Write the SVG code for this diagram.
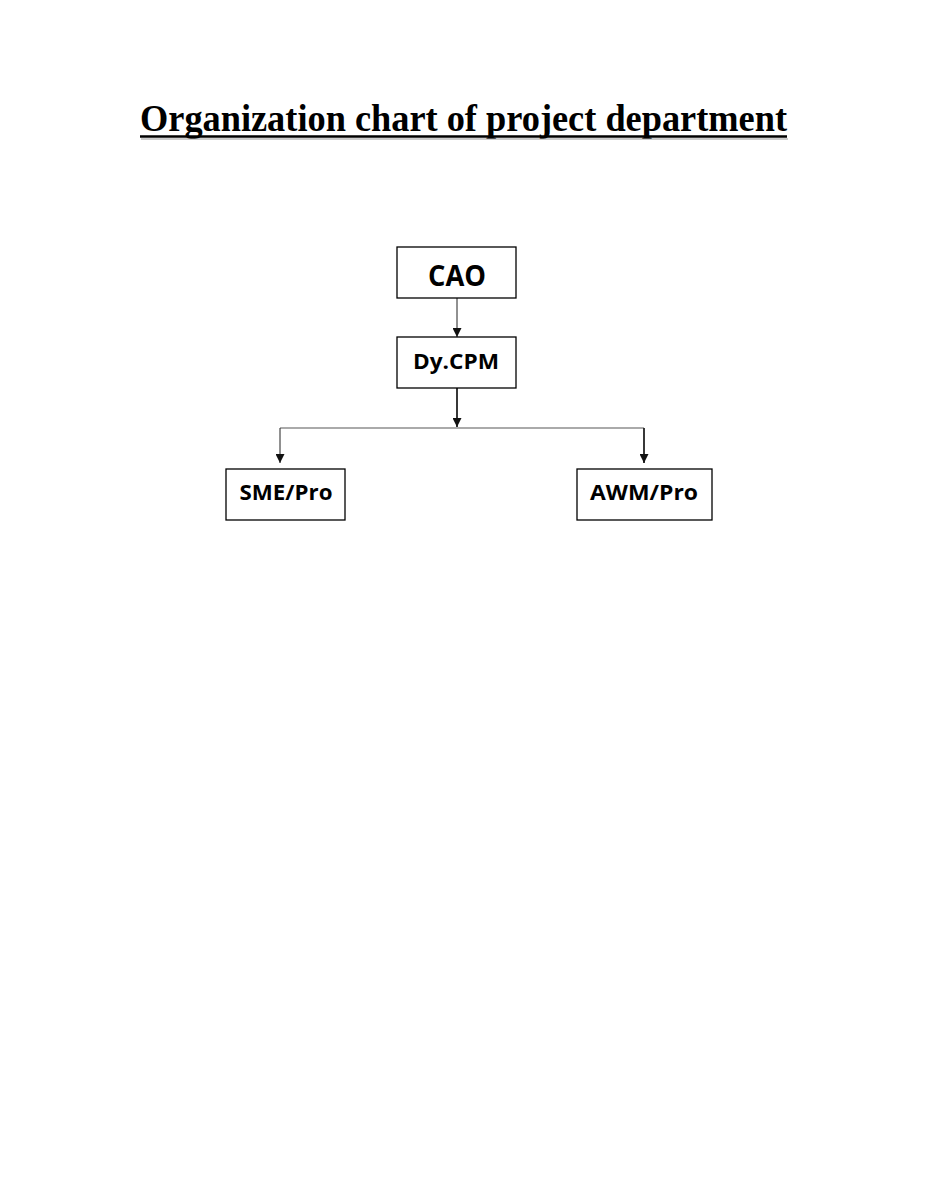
<svg xmlns="http://www.w3.org/2000/svg" width="927" height="1200" viewBox="0 0 927 1200">
<style>
.box{fill:#fff;stroke:#000;stroke-width:1.3}
.lbl{font-family:"Open Sans","Noto Sans","Liberation Sans",sans-serif;font-weight:bold;fill:#000;text-anchor:middle}
.title{font-family:"Liberation Serif","Times New Roman",serif;font-weight:bold;font-size:38px;fill:#000}
.ln{stroke:#222;fill:none}
</style>
<defs>
<marker id="ah" viewBox="0 0 10 10" refX="10" refY="5" markerWidth="9" markerHeight="9" markerUnits="userSpaceOnUse" orient="auto">
<path d="M0,0 L10,5 L0,10 Z" fill="#111"/>
</marker>
</defs>
<rect width="927" height="1200" fill="#fff"/>
<g id="title">
<text class="title" x="140" y="131" textLength="647" lengthAdjust="spacingAndGlyphs">Organization chart of project department</text>
<line x1="140" y1="136.5" x2="787" y2="136.5" stroke="#000" stroke-width="2.5"/>
<line x1="141" y1="139" x2="788" y2="139" stroke="#999" stroke-width="1"/>
</g>
<g id="connectors">
<line class="ln" x1="457" y1="298" x2="457" y2="337" stroke-width="1" marker-end="url(#ah)"/>
<line class="ln" x1="457" y1="388" x2="457" y2="427" stroke-width="1.8" marker-end="url(#ah)"/>
<line x1="280" y1="428" x2="644" y2="428" stroke="#aaa" stroke-width="1.8"/>
<line class="ln" x1="280" y1="428" x2="280" y2="463" stroke-width="1" marker-end="url(#ah)"/>
<line class="ln" x1="644" y1="428" x2="644" y2="463" stroke-width="1.8" marker-end="url(#ah)"/>
</g>
<g id="cao">
<rect class="box" x="397" y="247" width="119" height="51"/>
<text class="lbl" x="457" y="286" font-size="28" textLength="58" lengthAdjust="spacingAndGlyphs">CAO</text>
</g>
<g id="dycpm">
<rect class="box" x="397" y="337" width="119" height="51"/>
<text class="lbl" x="456" y="369" font-size="21" textLength="86" lengthAdjust="spacingAndGlyphs">Dy.CPM</text>
</g>
<g id="smepro">
<rect class="box" x="226" y="469" width="119" height="51"/>
<text class="lbl" x="286" y="500" font-size="22" textLength="93" lengthAdjust="spacingAndGlyphs">SME/Pro</text>
</g>
<g id="awmpro">
<rect class="box" x="577" y="469" width="135" height="51"/>
<text class="lbl" x="644" y="500" font-size="22" textLength="108" lengthAdjust="spacingAndGlyphs">AWM/Pro</text>
</g>
</svg>
